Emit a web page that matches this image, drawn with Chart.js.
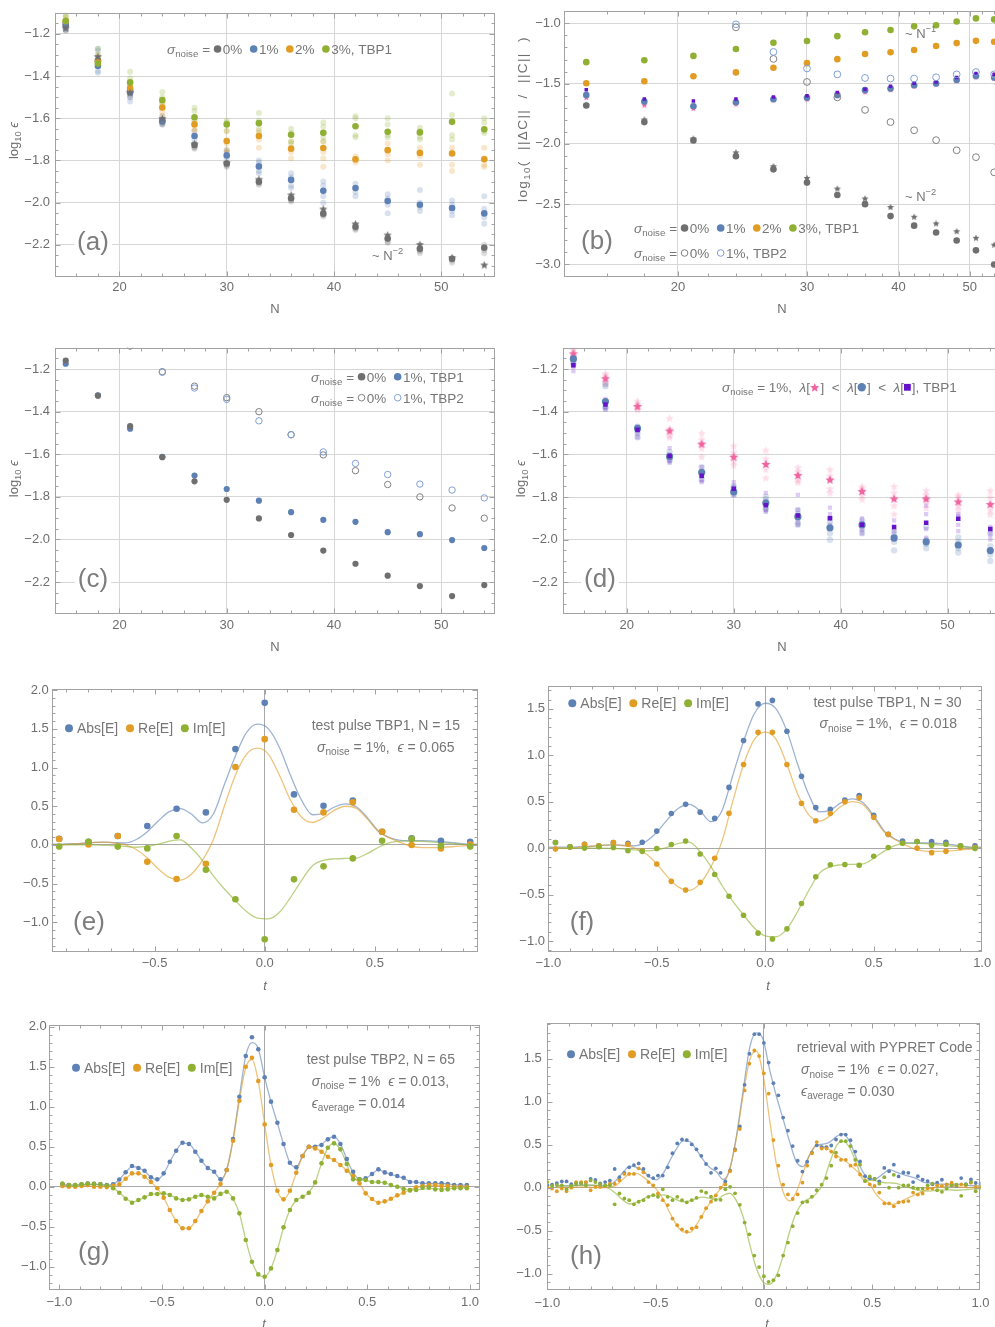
<!DOCTYPE html>
<html><head><meta charset="utf-8">
<script src="https://cdn.jsdelivr.net/npm/chart.js@4.4.1/dist/chart.umd.min.js"></script>
<style>
html,body{margin:0;padding:0;background:#fff;overflow:hidden;width:995px;height:1327px;}
canvas{position:absolute;}
</style></head><body>
<canvas id="ca" width="497" height="320" style="left:0px;top:0px"></canvas>
<canvas id="cb" width="510" height="320" style="left:495px;top:0px"></canvas>
<canvas id="cc" width="497" height="325" style="left:0px;top:335px"></canvas>
<canvas id="cd" width="510" height="325" style="left:495px;top:335px"></canvas>
<canvas id="ce" width="495" height="320" style="left:0px;top:675px"></canvas>
<canvas id="cf" width="500" height="320" style="left:495px;top:675px"></canvas>
<canvas id="cg" width="495" height="317" style="left:0px;top:1010px"></canvas>
<canvas id="ch" width="500" height="317" style="left:495px;top:1010px"></canvas>
<script>
// ---------------- DATA ----------------
const Nvals = [15,18,21,24,27,30,33,36,39,42,45,48,51,54];

// (a),(c): TBP1 0% ; (a),(d): 1% ; (a): 2%, 3%
const err0 = [-1.160,-1.325,-1.468,-1.614,-1.727,-1.814,-1.901,-1.979,-2.052,-2.114,-2.170,-2.219,-2.266,-2.214];
const errStar0 = [-1.172,-1.307,-1.478,-1.601,-1.721,-1.810,-1.889,-1.963,-2.030,-2.100,-2.153,-2.198,-2.260,-2.295];
const err1 = [-1.152,-1.352,-1.478,-1.610,-1.684,-1.776,-1.828,-1.892,-1.944,-1.931,-1.992,-2.010,-2.025,-2.051];
const err2 = [-1.140,-1.330,-1.457,-1.549,-1.629,-1.708,-1.684,-1.744,-1.741,-1.794,-1.751,-1.764,-1.767,-1.794];
const err3 = [-1.138,-1.340,-1.430,-1.514,-1.595,-1.629,-1.623,-1.678,-1.669,-1.638,-1.664,-1.667,-1.617,-1.652];

const faint0 = [[-1.17,-1.18,-1.185],[-1.335,-1.34,-1.35],[-1.478,-1.49,-1.50],[-1.62,-1.625,-1.63],[-1.735,-1.74,-1.745],[-1.82,-1.825,-1.83],[-1.905,-1.91,-1.915],[-1.985,-1.99,-1.995],[-2.055,-2.06,-2.065],[-2.12,-2.125,-2.13],[-2.175,-2.185,-2.19],[-2.225,-2.23,-2.24],[-2.27,-2.275,-2.285],[-2.20,-2.225,-2.24]];
const faint1 = [[-1.14,-1.17,-1.18],[-1.27,-1.28,-1.376,-1.384],[-1.47,-1.50,-1.52],[-1.59,-1.62,-1.63],[-1.66,-1.70,-1.72],[-1.75,-1.76,-1.79],[-1.80,-1.81,-1.85,-1.86],[-1.86,-1.88,-1.92,-1.93],[-1.90,-1.92,-1.97,-2.0],[-1.91,-1.95,-1.97],[-1.96,-1.98,-2.01,-2.05],[-1.94,-2.0,-2.02,-2.04],[-1.99,-2.01,-2.04,-2.06],[-1.97,-2.03,-2.07,-2.10]];
const faint2 = [[-1.12,-1.15],[-1.30,-1.32],[-1.44,-1.47],[-1.53,-1.57,-1.59],[-1.61,-1.65,-1.66],[-1.66,-1.72,-1.75,-1.76],[-1.66,-1.70,-1.74],[-1.71,-1.76,-1.79],[-1.71,-1.76,-1.79,-1.83],[-1.78,-1.80,-1.81],[-1.72,-1.77,-1.80],[-1.74,-1.78,-1.82],[-1.74,-1.76,-1.82,-1.85],[-1.74,-1.79,-1.82,-1.83]];
const faint3 = [[-1.11,-1.12],[-1.27,-1.30,-1.33],[-1.38,-1.41,-1.45],[-1.476,-1.50,-1.53],[-1.55,-1.565,-1.61],[-1.61,-1.62,-1.66],[-1.575,-1.61,-1.65,-1.67],[-1.65,-1.67,-1.71,-1.72],[-1.62,-1.64,-1.69,-1.71],[-1.59,-1.60,-1.68,-1.69],[-1.60,-1.63,-1.68,-1.69],[-1.645,-1.66,-1.69,-1.70],[-1.483,-1.585,-1.68,-1.70],[-1.60,-1.62,-1.66,-1.67]];

// (b) log10(||dC||/||C||)
const bGray = [-1.682,-1.819,-1.971,-2.102,-2.211,-2.321,-2.424,-2.500,-2.599,-2.678,-2.735,-2.801,-2.883,-3.000];
const bStarGray = [-1.675,-1.797,-1.955,-2.070,-2.184,-2.282,-2.370,-2.452,-2.523,-2.604,-2.659,-2.724,-2.779,-2.836];
const bBlue = [-1.595,-1.649,-1.688,-1.655,-1.630,-1.617,-1.595,-1.554,-1.540,-1.513,-1.499,-1.469,-1.437,-1.450];
const bOrange = [-1.497,-1.480,-1.439,-1.407,-1.368,-1.330,-1.297,-1.254,-1.240,-1.221,-1.188,-1.164,-1.145,-1.153];
const bGreen = [-1.322,-1.306,-1.270,-1.213,-1.161,-1.147,-1.106,-1.074,-1.055,-1.025,-1.016,-0.984,-0.959,-0.967];
const bSquare = [-1.551,-1.628,-1.644,-1.628,-1.611,-1.600,-1.573,-1.546,-1.521,-1.497,-1.486,-1.450,-1.417,-1.423];
const bStarPink = [-1.614,-1.677,-1.704,-1.668,-1.633,-1.628,-1.600,-1.568,-1.550,-1.520,-1.505,-1.475,-1.445,-1.455];
const bRing0 = [null,null,null,-1.033,-1.295,-1.486,-1.614,-1.718,-1.819,-1.887,-1.969,-2.053,-2.110,-2.236];
const bRing1 = [null,null,null,-1.008,-1.237,-1.374,-1.423,-1.453,-1.458,-1.458,-1.447,-1.423,-1.404,-1.423];

// (c)
const errC1 = [-1.175,-1.323,-1.480,-1.612,-1.700,-1.763,-1.818,-1.872,-1.908,-1.917,-1.966,-1.975,-2.003,-2.040];
const errC0open = [null,null,-1.092,-1.212,-1.280,-1.334,-1.400,-1.508,-1.603,-1.677,-1.742,-1.800,-1.852,-1.900];
const errC1open = [null,null,-1.090,-1.215,-1.289,-1.342,-1.443,-1.508,-1.589,-1.643,-1.695,-1.740,-1.768,-1.805];

// (d)
const dStar = [-1.126,-1.243,-1.373,-1.488,-1.550,-1.611,-1.645,-1.697,-1.718,-1.772,-1.807,-1.807,-1.821,-1.833];
const dSquare = [-1.182,-1.366,-1.485,-1.608,-1.700,-1.761,-1.838,-1.887,-1.900,-1.930,-1.941,-1.921,-1.902,-1.950];
const faintStar = [[-1.10,-1.11,-1.14],[-1.22,-1.23,-1.26,-1.27],[-1.35,-1.36,-1.38,-1.39],[-1.43,-1.48,-1.51,-1.52],[-1.50,-1.53,-1.57,-1.61],[-1.56,-1.59,-1.63,-1.65],[-1.58,-1.62,-1.67,-1.71],[-1.66,-1.68,-1.72,-1.73],[-1.67,-1.70,-1.76,-1.78],[-1.75,-1.76,-1.79,-1.81],[-1.75,-1.78,-1.84,-1.88],[-1.77,-1.79,-1.82,-1.85],[-1.79,-1.80,-1.84,-1.86],[-1.77,-1.80,-1.86,-1.88]];
const faintSquare = [[-1.17,-1.19,-1.21],[-1.34,-1.38,-1.39],[-1.47,-1.50,-1.52],[-1.57,-1.60,-1.63,-1.64],[-1.66,-1.69,-1.72,-1.73],[-1.73,-1.75,-1.78,-1.79],[-1.78,-1.82,-1.86,-1.87],[-1.79,-1.86,-1.91,-1.93],[-1.85,-1.88,-1.93,-1.95],[-1.90,-1.92,-1.95,-1.97],[-1.91,-1.96,-1.99,-2.0],[-1.84,-1.88,-1.95,-1.99],[-1.88,-1.89,-1.93,-1.96],[-1.94,-1.96,-1.98,-2.0]];

// TBP1 exact pulse (curves of e,f)
const tCurve1 = [-1.0,-0.95,-0.9,-0.85,-0.8,-0.75,-0.7,-0.65,-0.6,-0.55,-0.5,-0.45,-0.4,-0.35,-0.3,-0.25,-0.2,-0.15,-0.1,-0.05,0.0,0.05,0.1,0.15,0.2,0.25,0.3,0.35,0.4,0.45,0.5,0.55,0.6,0.65,0.7,0.75,0.8,0.85,0.9,0.95,1.0];
const tbp1Abs = [0.01,0.01,0.01,0.015,0.02,0.03,0.035,0.03,0.025,0.07,0.17,0.31,0.43,0.47,0.40,0.285,0.40,0.78,1.15,1.45,1.56,1.50,1.26,0.90,0.58,0.39,0.41,0.49,0.53,0.49,0.35,0.18,0.095,0.06,0.055,0.055,0.05,0.04,0.025,0.01,0.01];
const tbp1Re = [0,0,0,0.01,0.02,0.03,0.035,0.025,0,-0.06,-0.17,-0.31,-0.42,-0.455,-0.38,-0.2,0.07,0.5,0.9,1.17,1.25,1.17,0.9,0.58,0.36,0.29,0.35,0.45,0.50,0.47,0.33,0.17,0.09,0.03,-0.02,-0.035,-0.035,-0.03,-0.02,-0.01,0];
const tbp1Im = [0,0,0,0,0,0,-0.005,-0.01,-0.02,-0.03,-0.02,0.01,0.05,0.065,-0.04,-0.2,-0.4,-0.57,-0.72,-0.86,-0.945,-0.955,-0.87,-0.68,-0.46,-0.27,-0.2,-0.18,-0.175,-0.17,-0.11,-0.03,0.03,0.05,0.05,0.045,0.035,0.025,0.015,0.005,0];
const shiftE = -0.033;   // time offset of the exact pulse in panel (e)

// (e) N = 15 retrieval
const tE = [-0.933,-0.8,-0.667,-0.533,-0.4,-0.267,-0.133,0,0.133,0.267,0.4,0.533,0.667,0.8,0.933];
const eAbs = [0.08,0.04,0.116,0.244,0.468,0.42,1.238,1.836,0.653,0.506,0.575,0.17,0.084,0.054,0.04];
const eRe = [0.077,0.006,0.116,-0.217,-0.44,-0.243,1.006,1.367,0.455,0.42,0.55,0.17,-0.002,-0.045,0.006];
const eIm = [-0.022,0.04,-0.022,-0.045,0.116,-0.32,-0.703,-1.22,-0.445,-0.277,-0.174,0.054,0.08,-0.01,-0.022];

// (f) N = 30 retrieval
const tF = [-0.967,-0.9,-0.833,-0.767,-0.7,-0.633,-0.567,-0.5,-0.433,-0.367,-0.3,-0.233,-0.167,-0.1,-0.033,0.033,0.1,0.167,0.233,0.3,0.367,0.433,0.5,0.567,0.633,0.7,0.767,0.833,0.9,0.967];
const fAbs = [0.06,0.014,0.042,0.025,0.06,0.053,0.063,0.183,0.373,0.471,0.387,0.32,0.654,1.159,1.553,1.591,1.258,0.773,0.436,0.418,0.517,0.566,0.352,0.148,0.077,0.07,0.07,0.063,0.025,0.025];
const fRe = [-0.011,0.01,0.042,0.025,0.06,0.042,-0.028,-0.172,-0.358,-0.452,-0.369,-0.109,0.376,0.9,1.247,1.247,0.9,0.482,0.295,0.373,0.499,0.541,0.331,0.148,0.053,0.0,-0.049,-0.035,0.007,0.005];
const fIm = [0.06,0.014,0.0,0.014,0.007,-0.028,-0.035,-0.004,0.039,0.077,-0.063,-0.284,-0.519,-0.723,-0.916,-0.979,-0.87,-0.596,-0.309,-0.179,-0.176,-0.186,-0.088,0.007,0.053,0.07,0.032,0.042,0.025,-0.004];

// TBP2 grid (N = 65)
const tG = [-0.985,-0.954,-0.923,-0.892,-0.862,-0.831,-0.800,-0.769,-0.738,-0.708,-0.677,-0.646,-0.615,-0.585,-0.554,-0.523,-0.492,-0.462,-0.431,-0.400,-0.369,-0.338,-0.308,-0.277,-0.246,-0.215,-0.185,-0.154,-0.123,-0.092,-0.062,-0.031,0.000,0.031,0.062,0.092,0.123,0.154,0.185,0.215,0.246,0.277,0.308,0.338,0.369,0.400,0.431,0.462,0.492,0.523,0.554,0.585,0.615,0.646,0.677,0.708,0.738,0.769,0.800,0.831,0.862,0.892,0.923,0.954,0.985];
// TBP2 exact pulse (curves of g,h)
const tbp2Abs = [0.02,0.02,0.02,0.025,0.03,0.03,0.025,0.02,0.03, 0.09,0.18,0.25,0.235,0.195,0.12,0.09,0.165, 0.31,0.45,0.545,0.535,0.44,0.325,0.235,0.185,0.095,0.21, 0.595,1.125,1.635,1.80,1.725,1.367,1.06,0.795,0.533,0.30, 0.245,0.385,0.49,0.505,0.53,0.595,0.625,0.535,0.346,0.18, 0.095,0.105,0.16,0.21,0.18,0.155,0.13,0.105,0.065,0.055, 0.045,0.04,0.04,0.04,0.035,0.025,0.02,0.02];
const tbp2Re = [0.0,0.0,0.0,0.005,0.01,0.005,0.0,0.0,0.01, 0.03,0.10,0.16,0.165,0.125,0.06,-0.02,-0.135, -0.29,-0.43,-0.515,-0.52,-0.43,-0.305,-0.18,-0.075,0.035,0.21, 0.575,1.075,1.49,1.59,1.32,0.78,0.27,-0.05,-0.155,-0.05, 0.175,0.385,0.49,0.48,0.44,0.375,0.33,0.27,0.2,0.13, 0.04,-0.08,-0.155,-0.195,-0.185,-0.15,-0.11,-0.075,-0.04,-0.01, 0.005,0.015,0.015,0.01,0.005,0.0,0.0,0.0];
const tbp2Im = [0.02,0.02,0.02,0.025,0.03,0.03,0.025,0.015,-0.015, -0.075,-0.145,-0.19,-0.17,-0.135,-0.095,-0.088,-0.085, -0.105,-0.14,-0.165,-0.155,-0.125,-0.11,-0.125,-0.14,-0.09,-0.065, -0.15,-0.335,-0.665,-0.935,-1.095,-1.125,-1.02,-0.79,-0.51,-0.29, -0.17,-0.125,-0.07,0.055,0.29,0.485,0.54,0.465,0.285,0.095, 0.085,0.08,0.06,0.055,0.05,0.02,0.0,-0.025,-0.04,-0.04, -0.03,-0.025,-0.025,-0.03,-0.025,-0.02,-0.015,-0.01];
const shiftH = 0.027;   // time offset of the exact pulse in panel (h)

// (g) N = 65 retrieval
const gAbs = [0.03,0.02,0.02,0.03,0.04,0.035,0.03,0.02,0.03, 0.09,0.18,0.258,0.233,0.2,0.117,0.092,0.167, 0.312,0.45,0.55,0.533,0.437,0.325,0.233,0.187,0.092,0.208, 0.596,1.125,1.633,1.867,1.717,1.367,1.063,0.8,0.533,0.3, 0.242,0.383,0.5,0.5,0.521,0.592,0.625,0.533,0.346,0.187, 0.092,0.104,0.158,0.217,0.179,0.158,0.133,0.112,0.058,0.058, 0.042,0.042,0.042,0.042,0.033,0.02,0.02,0.02];
const gRe = [0.01,0.0,0.0,0.01,0.02,0.0,0.0,-0.005,0.01, 0.03,0.10,0.167,0.167,0.125,0.058,-0.02,-0.137, -0.292,-0.429,-0.52,-0.52,-0.429,-0.304,-0.183,-0.075,0.033,0.208, 0.575,1.075,1.5,1.612,1.321,0.779,0.271,-0.05,-0.158,-0.05, 0.175,0.383,0.5,0.479,0.437,0.375,0.333,0.271,0.2,0.133, 0.042,-0.083,-0.154,-0.2,-0.183,-0.15,-0.108,-0.075,-0.042,-0.008, 0.008,0.021,0.02,0.01,0.01,0.0,0.0,0.0];
const gIm = [0.04,0.02,0.02,0.03,0.04,0.035,0.03,0.015,-0.02, -0.075,-0.15,-0.2,-0.167,-0.133,-0.092,-0.092,-0.083, -0.104,-0.146,-0.167,-0.158,-0.125,-0.104,-0.125,-0.146,-0.09,-0.063, -0.146,-0.333,-0.667,-0.937,-1.096,-1.125,-1.021,-0.792,-0.508,-0.292, -0.167,-0.125,-0.075,0.054,0.292,0.487,0.542,0.467,0.283,0.092, 0.092,0.083,0.058,0.058,0.05,0.02,0.0,-0.03,-0.046,-0.042, -0.012,-0.012,-0.033,-0.042,-0.033,-0.02,-0.02,-0.02];

// (h) PYPRET retrieval
const tH = [-1.000,-0.978,-0.956,-0.933,-0.911,-0.889,-0.867,-0.844,-0.822,-0.800,-0.778,-0.756,-0.733,-0.711,-0.689,-0.667,-0.644,-0.622,-0.600,-0.578,-0.556,-0.533,-0.511,-0.489,-0.467,-0.444,-0.422,-0.400,-0.378,-0.356,-0.333,-0.311,-0.289,-0.267,-0.244,-0.222,-0.200,-0.178,-0.156,-0.133,-0.111,-0.089,-0.067,-0.044,-0.022,0.000,0.022,0.044,0.067,0.089,0.111,0.133,0.156,0.178,0.200,0.222,0.244,0.267,0.289,0.311,0.333,0.356,0.378,0.400,0.422,0.444,0.467,0.489,0.511,0.533,0.556,0.578,0.600,0.622,0.644,0.667,0.689,0.711,0.733,0.756,0.778,0.800,0.822,0.844,0.867,0.889,0.911,0.933,0.956,0.978,1.000];
const hAbs = [0.027,0.034,0.053,0.072,0.072,0.04,0.05,0.053,0.06,0.103, 0.09,0.05,0.065,0.08,0.217,0.122,0.172,0.236,0.263,0.282, 0.217,0.141,0.111,0.141,0.141,0.236,0.40,0.514,0.56,0.553, 0.503,0.446,0.37,0.275,0.172,0.225,0.172,0.073,0.2,0.446, 0.712,1.196,1.557,1.785,1.785,1.683,1.454,1.215,1.074,0.815, 0.663,0.484,0.313,0.187,0.301,0.408,0.492,0.47,0.47,0.49, 0.56,0.617,0.617,0.552,0.419,0.305,0.134,0.11,0.103,0.073, 0.229,0.191,0.267,0.13,0.176,0.172,0.065,0.134,0.092,0.077, 0.04,0.058,0.092,0.035,0.03,0.02,0.111,0.04,0.096,0.054,0.046];
const hRe = [0.0,-0.011,-0.042,-0.011,-0.042,0.0,0.065,0.065,0.065,-0.03, 0.008,0.008,0.019,0.046,0.046,0.084,0.16,0.16,0.16,0.225, 0.179,0.065,0.027,-0.068,-0.145,-0.202,-0.36,-0.437,-0.486,-0.513, -0.475,-0.46,-0.34,-0.239,-0.163,-0.09,0.0,0.038,0.191,0.435, 0.682,1.131,1.443,1.595,1.53,1.329,1.093,0.553,0.256,0.035, -0.079,-0.132,-0.079,0.058,0.256,0.4,0.53,0.454,0.454,0.42, 0.362,0.324,0.324,0.256,0.267,0.153,0.077,0.039,0.02,-0.057, -0.183,-0.183,-0.217,-0.171,-0.164,-0.156,-0.057,-0.08,-0.068,-0.011, -0.011,0.027,0.02,0.039,0.058,0.027,0.039,0.027,0.058,0.008,0.01];
const hIm = [0.065,0.019,0.03,0.027,-0.019,0.02,0.046,0.053,0.027,0.084, 0.065,0.04,0.027,0.027,-0.194,-0.068,-0.126,-0.145,-0.194,-0.164, -0.145,-0.107,-0.088,-0.107,-0.019,-0.107,-0.145,-0.107,-0.145,-0.171, -0.145,-0.118,-0.04,-0.058,-0.104,-0.141,-0.141,-0.019,0.01,-0.066, -0.2,-0.406,-0.543,-0.79,-0.924,-1.03,-1.095,-1.076,-1.019,-0.79, -0.638,-0.448,-0.296,-0.171,-0.163,-0.106,-0.03,0.035,0.111,0.256, 0.407,0.54,0.54,0.483,0.324,0.267,0.077,0.13,0.103,0.046, 0.122,0.0,0.149,0.0,0.027,0.027,0.0,-0.011,-0.011,0.027, 0.046,-0.03,-0.049,-0.011,0.027,0.035,-0.095,0.035,0.065,-0.042,0.0];

// tick labels
const nTicks = [20,30,40,50];
const errTicks = [-2.2,-2.0,-1.8,-1.6,-1.4,-1.2];
const bTicksY = [-3.0,-2.5,-2.0,-1.5,-1.0];
const eTicksX = [-0.5,0,0.5];
const tTicks = [-1,-0.5,0,0.5,1];
const fieldTicks2 = [-1,-0.5,0,0.5,1,1.5,2];
const fieldTicks15 = [-1,-0.5,0,0.5,1,1.5];

// ---------------- STYLE ----------------
const FONT = '"Liberation Sans", Arial, sans-serif';
const TICK = '#6e6e6e', TXT = '#767676', LBL = '#7d7d7d', FRAME = '#a2a2a2', GRID = '#d6d6d6', ZERO = '#a8a8a8';
const GRAY = '#6f6f6f', BLUE = '#5e81b5', ORANGE = '#e19c24', GREEN = '#8fb032', PINK = '#f0649f', PURPLE = '#6612c8';
const GRAY_F = 'rgba(111,111,111,0.22)', BLUE_F = 'rgba(94,129,181,0.24)', ORANGE_F = 'rgba(225,156,36,0.24)', GREEN_F = 'rgba(143,176,50,0.24)', PURPLE_F = 'rgba(102,18,200,0.22)', PINK_F = 'rgba(240,100,159,0.22)';
const BLUE_L = 'rgba(94,129,181,0.6)', ORANGE_L = 'rgba(225,156,36,0.6)', GREEN_L = 'rgba(143,176,50,0.6)';
const RING_G = '#808080', RING_B = '#7f9fd3';

function starPath(ctx, cx, cy, R, r) {
  ctx.beginPath();
  for (let i = 0; i < 10; i++) {
    const a = -Math.PI / 2 + i * Math.PI / 5, rr = i % 2 ? r : R;
    ctx.lineTo(cx + rr * Math.cos(a), cy + rr * Math.sin(a));
  }
  ctx.closePath();
}
function starImg(R, color) {
  const s = Math.ceil(2 * R + 2), c = document.createElement('canvas');
  c.width = s; c.height = s;
  const x = c.getContext('2d'); x.fillStyle = color;
  starPath(x, s / 2, s / 2 + R * 0.1, R, R * 0.45); x.fill();
  return c;
}
function drawMark(ctx, m, cx, cy, r, c) {
  ctx.save();
  if (m === 'dot') { ctx.fillStyle = c; ctx.beginPath(); ctx.arc(cx, cy, r, 0, 2 * Math.PI); ctx.fill(); }
  else if (m === 'ring') { ctx.strokeStyle = c; ctx.lineWidth = 1; ctx.beginPath(); ctx.arc(cx, cy, r - 0.5, 0, 2 * Math.PI); ctx.stroke(); }
  else if (m === 'sq') { ctx.fillStyle = c; ctx.fillRect(cx - r, cy - r, 2 * r, 2 * r); }
  else if (m === 'star') { ctx.fillStyle = c; starPath(ctx, cx, cy + r * 0.1, r, r * 0.45); ctx.fill(); }
  ctx.restore();
}
function drawRich(ctx, it, ox, oy) {
  const base = it.s || 13;
  const ls = (it.ls || 0) + 'px';
  ctx.save();
  if ('letterSpacing' in ctx) ctx.letterSpacing = ls;
  const parts = it.runs.map(r0 => {
    const r = typeof r0 === 'string' ? { t: r0 } : r0;
    if (r.m) return { r, w: 2 * (r.r || 3.8) + (r.g === undefined ? 1.5 : r.g) };
    const sz = (r.sub || r.sup) ? base * 0.72 : base;
    const font = (r.it ? 'italic ' : '') + sz + 'px ' + FONT;
    ctx.font = font;
    return { r, w: ctx.measureText(r.t).width, font };
  });
  const total = parts.reduce((a, p) => a + p.w, 0);
  ctx.translate(it.x - ox, it.y - oy);
  if (it.rot) ctx.rotate(it.rot);
  let x = it.a === 'center' ? -total / 2 : it.a === 'right' ? -total : 0;
  if (it.bg) { ctx.fillStyle = it.bg; ctx.fillRect(x - 3, -base * 0.52, total + 6, base * 1.04); }
  const bl = base * 0.36;
  ctx.textBaseline = 'alphabetic'; ctx.textAlign = 'left';
  for (const p of parts) {
    const r = p.r;
    if (r.m) drawMark(ctx, r.m, x + (r.r || 3.8), 0, r.r || 3.8, r.c);
    else {
      ctx.font = p.font; ctx.fillStyle = r.c || it.c || TXT;
      const dy = r.sub ? base * 0.24 : r.sup ? -base * 0.42 : 0;
      ctx.fillText(r.t, x, bl + dy);
    }
    x += p.w;
  }
  ctx.restore();
}
// decoration specs kept outside Chart.js option resolution
const DECO = {};
const deco = {
  id: 'deco',
  afterDraw(chart) {
    const o = DECO[chart.canvas.id];
    if (!o) return;
    const { ctx, chartArea: a, scales } = chart;
    ctx.save();
    ctx.strokeStyle = FRAME; ctx.lineWidth = 1;
    const L = Math.round(a.left) + 0.5, R = Math.round(a.right) - 0.5, T = Math.round(a.top) + 0.5, B = Math.round(a.bottom) - 0.5;
    ctx.strokeRect(L, T, R - L, B - T);
    ctx.beginPath();
    const tk = (vals, len, isX) => {
      for (const v of vals) {
        if (isX) {
          const p = Math.round(scales.x.getPixelForValue(v)) + 0.5;
          if (p < a.left + 1 || p > a.right - 1) continue;
          ctx.moveTo(p, B); ctx.lineTo(p, B - len); ctx.moveTo(p, T); ctx.lineTo(p, T + len);
        } else {
          const p = Math.round(scales.y.getPixelForValue(v)) + 0.5;
          if (p < a.top + 1 || p > a.bottom - 1) continue;
          ctx.moveTo(L, p); ctx.lineTo(L + len, p); ctx.moveTo(R, p); ctx.lineTo(R - len, p);
        }
      }
    };
    tk(o.xMajor, 5, true); tk(o.xMinor, 3, true); tk(o.yMajor, 5, false); tk(o.yMinor, 3, false);
    ctx.stroke();
    for (const it of o.texts) drawRich(ctx, it, o.ox, o.oy);
    ctx.restore();
  }
};

// helpers
const range = (a, b, s, skip) => { const r = []; for (let v = a; v <= b + 1e-9; v += s) { const q = Math.round(v * 1000) / 1000; if (!skip || !skip.some(m => Math.abs(m - q) < 1e-6)) r.push(q); } return r; };
const pts = (xs, ys, dx) => xs.map((x, i) => ({ x: x + (dx || 0), y: ys[i] })).filter(p => p.y !== null);
const multi = (xs, yss) => xs.flatMap((x, i) => yss[i].map(y => ({ x, y })));
const dot = (data, c, r) => ({ data, backgroundColor: c, borderColor: c, borderWidth: 0, pointRadius: r, pointStyle: 'circle', clip: 0 });
const ring = (data, c, r) => ({ data, backgroundColor: 'rgba(0,0,0,0)', borderColor: c, borderWidth: 1, pointRadius: r, pointStyle: 'circle', clip: 0 });
const sq = (data, c, r) => ({ data, backgroundColor: c, borderColor: c, borderWidth: 0, pointRadius: r, pointStyle: 'rect', clip: 0 });
const img = (data, im) => ({ data, pointStyle: im, pointRadius: 4, clip: 0 });
const curve = (data, c) => ({ data, showLine: true, pointRadius: 0, borderColor: c, borderWidth: 1.3, cubicInterpolationMode: 'monotone', fill: false, clip: 0 });
const fmt1 = v => (Math.abs(v) < 1e-9 ? '0.0' : v.toFixed(1)).replace('-', '\u2212');
const fmtInt = v => String(Math.round(v));
const SIG = [{ t: 'σ', it: 1 }, { t: 'noise', sub: 1 }];
const M = (m, c, r, g) => ({ m, c, r: r || 3.8, g: g === undefined ? 1.5 : g });
const ROT = -Math.PI / 2;
const logEps = ['log', { t: '10', sub: 1 }, ' ', { t: 'ϵ', it: 1 }];

function build(id, P) {
  DECO[id] = { ox: P.ox, oy: P.oy, texts: P.texts, xMajor: P.xTicks, xMinor: P.xMinor, yMajor: P.yTicks, yMinor: P.yMinor };
  const gridCol = P.zero ? (c => (c.tick && Math.abs(c.tick.value) < 1e-9) ? ZERO : 'rgba(0,0,0,0)') : GRID;
  new Chart(document.getElementById(id), {
    type: 'scatter',
    data: { datasets: P.datasets },
    options: {
      responsive: false, animation: false, events: [], devicePixelRatio: 1,
      layout: { autoPadding: false, padding: { left: 0, top: P.area.t, right: P.W - P.area.r, bottom: 0 } },
      plugins: { legend: { display: false }, tooltip: { enabled: false } },
      scales: {
        x: { type: P.xType || 'linear', min: P.xMin, max: P.xMax,
          afterBuildTicks: s => { s.ticks = P.xTicks.map(v => ({ value: v })); },
          afterFit: s => { s.height = P.H - P.area.b; },
          ticks: { callback: v => (P.xFmt || fmt1)(v), color: TICK, font: { family: FONT, size: 13 }, padding: P.xPad, maxRotation: 0, minRotation: 0, autoSkip: false },
          grid: { drawTicks: false, color: gridCol, lineWidth: 1 }, border: { display: false } },
        y: { type: 'linear', min: P.yMin, max: P.yMax,
          afterBuildTicks: s => { s.ticks = P.yTicks.map(v => ({ value: v })); },
          afterFit: s => { s.width = P.area.l; },
          ticks: { callback: v => fmt1(v), color: TICK, font: { family: FONT, size: 13 }, padding: P.yPad, autoSkip: false },
          grid: { drawTicks: false, color: gridCol, lineWidth: 1 }, border: { display: false } }
      }
    },
    plugins: [deco]
  });
}

const starG4 = starImg(4.3, GRAY), starG35 = starImg(3.7, GRAY), starP3 = starImg(3.4, PINK), starP45 = starImg(4.8, PINK), starPF = starImg(4.4, PINK_F);
const nMinor = range(16, 54, 2, nTicks);
const errMinor = range(-2.35, -1.1, 0.05, errTicks);

// (a)
build('ca', { ox: 0, oy: 0, W: 497, H: 320, area: { l: 55, t: 5, r: 495, b: 276.5 },
  xMin: 14, xMax: 55, yMin: -2.35, yMax: -1.1, xTicks: nTicks, yTicks: errTicks, xMinor: nMinor, yMinor: errMinor,
  xFmt: fmtInt, xPad: 3, yPad: 5,
  datasets: [
    img(pts(Nvals, errStar0), starG4),
    dot(pts(Nvals, err3), GREEN, 3.3), dot(pts(Nvals, err2), ORANGE, 3.3), dot(pts(Nvals, err1), BLUE, 3.3), dot(pts(Nvals, err0), GRAY, 3.3),
    dot(multi(Nvals, faint3), GREEN_F, 3), dot(multi(Nvals, faint2), ORANGE_F, 3), dot(multi(Nvals, faint1), BLUE_F, 3), dot(multi(Nvals, faint0), GRAY_F, 3)
  ],
  texts: [
    { x: 13, y: 140.5, rot: ROT, a: 'center', s: 13, c: TICK, runs: logEps },
    { x: 275, y: 308, a: 'center', s: 13, c: TICK, runs: ['N'] },
    { x: 167, y: 49, s: 13.5, runs: [...SIG, ' = ', M('dot', GRAY), '0%  ', M('dot', BLUE), '1%  ', M('dot', ORANGE), '2%  ', M('dot', GREEN), '3%, TBP1'] },
    { x: 372, y: 255, s: 13, runs: ['~ N', { t: '\u22122', sup: 1 }] },
    { x: 93, y: 241, a: 'center', s: 26, c: LBL, bg: '#fff', runs: ['(a)'] }
  ] });

// (b)
build('cb', { ox: 495, oy: 0, W: 510, H: 320, area: { l: 69.3, t: 7.8, r: 505, b: 276.5 },
  xType: 'logarithmic', xMin: 14, xMax: 55, yMin: -3.1, yMax: -0.9, xTicks: nTicks, yTicks: bTicksY,
  xMinor: [16, 18, 22, 24, 26, 28, 32, 34, 36, 38, 42, 44, 46, 48, 52, 54], yMinor: range(-3.1, -0.9, 0.1, bTicksY),
  xFmt: fmtInt, xPad: 3, yPad: 3.5,
  datasets: [
    ring(pts(Nvals, bRing1), RING_B, 3.4), ring(pts(Nvals, bRing0), RING_G, 3.4),
    dot(pts(Nvals, bGreen), GREEN, 3.3), dot(pts(Nvals, bOrange), ORANGE, 3.3),
    sq(pts(Nvals, bSquare), PURPLE, 2.5), dot(pts(Nvals, bBlue), BLUE, 3.3),
    img(pts(Nvals, bStarPink), starP3), img(pts(Nvals, bStarGray), starG35), dot(pts(Nvals, bGray), GRAY, 3.3)
  ],
  texts: [
    { x: 522, y: 119, rot: ROT, a: 'center', s: 13.5, ls: 1.4, c: TICK, runs: ['log', { t: '10', sub: 1 }, '(  ||\u0394C||  /  ||C||  )'] },
    { x: 782, y: 308, a: 'center', s: 13, c: TICK, runs: ['N'] },
    { x: 905, y: 33, s: 13, runs: ['~ N', { t: '\u22121', sup: 1 }] },
    { x: 905, y: 196, s: 13, runs: ['~ N', { t: '\u22122', sup: 1 }] },
    { x: 634, y: 228, s: 13.5, runs: [...SIG, ' = ', M('dot', GRAY), '0%  ', M('dot', BLUE), '1%  ', M('dot', ORANGE), '2%  ', M('dot', GREEN), '3%, TBP1'] },
    { x: 634, y: 253, s: 13.5, runs: [...SIG, ' = ', M('ring', RING_G), '0%  ', M('ring', RING_B), '1%, TBP2'] },
    { x: 597, y: 240, a: 'center', s: 26, c: LBL, runs: ['(b)'] }
  ] });

// (c)
build('cc', { ox: 0, oy: 335, W: 497, H: 325, area: { l: 55, t: 8.3, r: 495, b: 279 },
  xMin: 14, xMax: 55, yMin: -2.35, yMax: -1.1, xTicks: nTicks, yTicks: errTicks, xMinor: nMinor, yMinor: errMinor,
  xFmt: fmtInt, xPad: 4, yPad: 5,
  datasets: [
    ring(pts(Nvals, errC1open), RING_B, 3.2), ring(pts(Nvals, errC0open), RING_G, 3.2),
    dot(pts(Nvals, err0), GRAY, 3.1), dot(pts(Nvals, errC1), BLUE, 3.1)
  ],
  texts: [
    { x: 13, y: 478.7, rot: ROT, a: 'center', s: 13, c: TICK, runs: logEps },
    { x: 275, y: 646, a: 'center', s: 13, c: TICK, runs: ['N'] },
    { x: 311, y: 376.7, s: 13.5, runs: [...SIG, ' = ', M('dot', GRAY), '0%  ', M('dot', BLUE), '1%, TBP1'] },
    { x: 311, y: 397.7, s: 13.5, runs: [...SIG, ' = ', M('ring', RING_G), '0%  ', M('ring', RING_B), '1%, TBP2'] },
    { x: 93, y: 578, a: 'center', s: 26, c: LBL, bg: '#fff', runs: ['(c)'] }
  ] });

// (d)
build('cd', { ox: 495, oy: 335, W: 510, H: 325, area: { l: 67.7, t: 8.3, r: 506, b: 279.3 },
  xMin: 14, xMax: 55, yMin: -2.35, yMax: -1.1, xTicks: nTicks, yTicks: errTicks, xMinor: nMinor, yMinor: errMinor,
  xFmt: fmtInt, xPad: 3.6, yPad: 5,
  datasets: [
    sq(pts(Nvals, dSquare), PURPLE, 3.2), dot(pts(Nvals, err1), BLUE, 3.6), img(pts(Nvals, dStar), starP45),
    sq(multi(Nvals, faintSquare), PURPLE_F, 3), dot(multi(Nvals, faint1), BLUE_F, 3.2), img(multi(Nvals, faintStar), starPF)
  ],
  texts: [
    { x: 520, y: 478.7, rot: ROT, a: 'center', s: 13, c: TICK, runs: logEps },
    { x: 782, y: 646, a: 'center', s: 13, c: TICK, runs: ['N'] },
    { x: 722, y: 387.3, s: 13.5, runs: [...SIG, ' = 1%,  ', { t: 'λ', it: 1 }, '[', M('star', PINK, 4.8, 1), ']  <  ', { t: 'λ', it: 1 }, '[', M('dot', BLUE, 4.2, 1), ']  <  ', { t: 'λ', it: 1 }, '[', M('sq', PURPLE, 3.4, 1), '], TBP1'] },
    { x: 600, y: 578, a: 'center', s: 26, c: LBL, bg: '#fff', runs: ['(d)'] }
  ] });

const legendE = [M('dot', BLUE, 4, 4), 'Abs[E]  ', M('dot', ORANGE, 4, 4), 'Re[E]  ', M('dot', GREEN, 4, 4), 'Im[E]'];
const fieldDS = (t, A, Re, Im, r, ct, cA, cRe, cIm, dt) => [
  dot(pts(t, Im), GREEN, r), dot(pts(t, Re), ORANGE, r), dot(pts(t, A), BLUE, r),
  curve(pts(ct, cIm, dt), GREEN_L), curve(pts(ct, cRe, dt), ORANGE_L), curve(pts(ct, cA, dt), BLUE_L)
];

// (e)
build('ce', { ox: 0, oy: 675, W: 495, H: 320, area: { l: 51.7, t: 14, r: 477.7, b: 276.7 }, zero: true,
  xMin: -0.967, xMax: 0.967, yMin: -1.38, yMax: 2.015, xTicks: eTicksX, yTicks: fieldTicks2,
  xMinor: range(-0.9, 0.9, 0.1, eTicksX), yMinor: range(-1.3, 1.9, 0.1, fieldTicks2), xPad: 3.8, yPad: 3,
  datasets: fieldDS(tE, eAbs, eRe, eIm, 3.3, tCurve1, tbp1Abs, tbp1Re, tbp1Im, shiftE),
  texts: [
    { x: 265, y: 985, a: 'center', s: 13, c: TICK, runs: [{ t: 't', it: 1 }] },
    { x: 65, y: 728.3, s: 14, runs: legendE },
    { x: 385.8, y: 725, a: 'center', s: 14, runs: ['test pulse TBP1, N = 15'] },
    { x: 385.8, y: 746.7, a: 'center', s: 14, runs: [...SIG, ' = 1%,  ', { t: 'ϵ', it: 1 }, ' = 0.065'] },
    { x: 89, y: 921, a: 'center', s: 26, c: LBL, runs: ['(e)'] }
  ] });

// (f)
build('cf', { ox: 495, oy: 675, W: 500, H: 320, area: { l: 53.3, t: 5, r: 492.3, b: 276.7 }, zero: true,
  xMin: -1, xMax: 1, yMin: -1.116, yMax: 1.745, xTicks: tTicks, yTicks: fieldTicks15,
  xMinor: range(-0.9, 0.9, 0.1, tTicks), yMinor: range(-1.1, 1.7, 0.1, fieldTicks15), xPad: 3.8, yPad: 3.3,
  datasets: fieldDS(tF, fAbs, fRe, fIm, 2.8, tCurve1, tbp1Abs, tbp1Re, tbp1Im, 0),
  texts: [
    { x: 768, y: 985, a: 'center', s: 13, c: TICK, runs: [{ t: 't', it: 1 }] },
    { x: 568.3, y: 703.3, s: 14, runs: legendE },
    { x: 887.5, y: 701.7, a: 'center', s: 14, runs: ['test pulse TBP1, N = 30'] },
    { x: 888.3, y: 723.3, a: 'center', s: 14, runs: [...SIG, ' = 1%,  ', { t: 'ϵ', it: 1 }, ' = 0.018'] },
    { x: 582, y: 921, a: 'center', s: 26, c: LBL, runs: ['(f)'] }
  ] });

// (g)
build('cg', { ox: 0, oy: 1010, W: 495, H: 317, area: { l: 49.3, t: 15, r: 480, b: 280 }, zero: true,
  xMin: -1.049, xMax: 1.049, yMin: -1.291, yMax: 2.021, xTicks: tTicks, yTicks: fieldTicks2,
  xMinor: range(-0.9, 0.9, 0.1, tTicks), yMinor: range(-1.2, 1.9, 0.1, fieldTicks2), xPad: 4.5, yPad: 2.6,
  datasets: fieldDS(tG, gAbs, gRe, gIm, 2.3, tG, tbp2Abs, tbp2Re, tbp2Im, 0),
  texts: [
    { x: 264, y: 1323, a: 'center', s: 13, c: TICK, runs: [{ t: 't', it: 1 }] },
    { x: 72, y: 1067.7, s: 14, runs: legendE },
    { x: 306.7, y: 1059, s: 14, runs: ['test pulse TBP2, N = 65'] },
    { x: 311.7, y: 1081, s: 14, runs: [...SIG, ' = 1%  ', { t: 'ϵ', it: 1 }, ' = 0.013,'] },
    { x: 311.7, y: 1102.7, s: 14, runs: [{ t: 'ϵ', it: 1 }, { t: 'average', sub: 1 }, ' = 0.014'] },
    { x: 94, y: 1251, a: 'center', s: 26, c: LBL, runs: ['(g)'] }
  ] });

// (h)
build('ch', { ox: 495, oy: 1010, W: 500, H: 317, area: { l: 52.3, t: 8.3, r: 491.7, b: 280 }, zero: true,
  xMin: -1, xMax: 1, yMin: -1.19, yMax: 1.911, xTicks: tTicks, yTicks: fieldTicks15,
  xMinor: range(-0.9, 0.9, 0.1, tTicks), yMinor: range(-1.1, 1.9, 0.1, fieldTicks15), xPad: 5.5, yPad: 5.5,
  datasets: fieldDS(tH, hAbs, hRe, hIm, 1.9, tG, tbp2Abs, tbp2Re, tbp2Im, shiftH),
  texts: [
    { x: 767, y: 1323, a: 'center', s: 13, c: TICK, runs: [{ t: 't', it: 1 }] },
    { x: 567, y: 1054.3, s: 14, runs: legendE },
    { x: 796.7, y: 1046.7, s: 14, runs: ['retrieval with PYPRET Code'] },
    { x: 801, y: 1069.3, s: 14, runs: [...SIG, ' = 1%  ', { t: 'ϵ', it: 1 }, ' = 0.027,'] },
    { x: 801, y: 1090.7, s: 14, runs: [{ t: 'ϵ', it: 1 }, { t: 'average', sub: 1 }, ' = 0.030'] },
    { x: 586, y: 1255, a: 'center', s: 26, c: LBL, runs: ['(h)'] }
  ] });
</script>
</body></html>
